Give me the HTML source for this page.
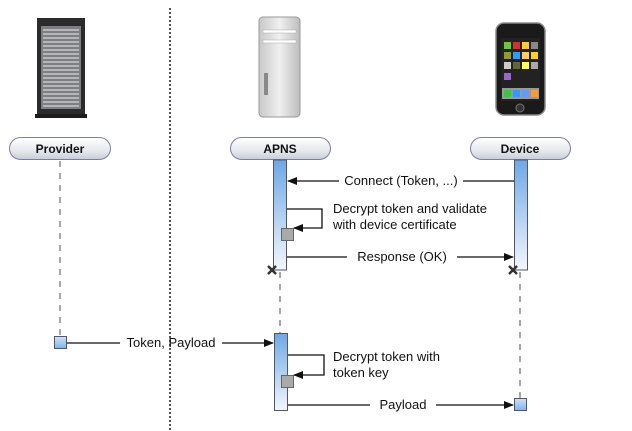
<!DOCTYPE html>
<html><head><meta charset="utf-8">
<style>
html,body{margin:0;padding:0;background:#fff;}
svg{display:block;font-family:"Liberation Sans",Arial,sans-serif;}
</style></head>
<body>
<svg width="632" height="431" viewBox="0 0 632 431" xmlns="http://www.w3.org/2000/svg">
<defs>
<linearGradient id="pill" x1="0" y1="0" x2="0" y2="1">
<stop offset="0" stop-color="#ffffff"/><stop offset="0.6" stop-color="#e6e8ec"/><stop offset="1" stop-color="#c9cdd6"/>
</linearGradient>
<linearGradient id="bar" x1="0" y1="0" x2="0" y2="1">
<stop offset="0" stop-color="#6ea8e6"/><stop offset="1" stop-color="#f2f7fd"/>
</linearGradient>
<linearGradient id="box" x1="0" y1="0" x2="0" y2="1">
<stop offset="0" stop-color="#cfe3f8"/><stop offset="1" stop-color="#7fb3e8"/>
</linearGradient>
<linearGradient id="mac" x1="0" y1="0" x2="1" y2="0">
<stop offset="0" stop-color="#c8c8c8"/><stop offset="0.5" stop-color="#f0f0f0"/><stop offset="1" stop-color="#bdbdbd"/>
</linearGradient>
<marker id="ah" markerWidth="10" markerHeight="8" refX="9" refY="4" orient="auto" markerUnits="userSpaceOnUse">
<path d="M0,0 L10,4 L0,8 Z" fill="#111"/>
</marker>
</defs>

<line x1="170" y1="8" x2="170" y2="431" stroke="#555" stroke-width="2" stroke-dasharray="2,2"/>

<rect x="37" y="18" width="48" height="98" fill="#2b2b2b"/>
<rect x="41" y="26" width="40" height="83" fill="#7d7f83"/>
<g stroke="#d5d7dc" stroke-width="1.2">
<line x1="43" y1="30" x2="79" y2="30"/><line x1="43" y1="34" x2="79" y2="34"/><line x1="43" y1="38" x2="79" y2="38"/><line x1="43" y1="42" x2="79" y2="42"/><line x1="43" y1="46" x2="79" y2="46"/><line x1="43" y1="50" x2="79" y2="50"/><line x1="43" y1="54" x2="79" y2="54"/><line x1="43" y1="58" x2="79" y2="58"/><line x1="43" y1="62" x2="79" y2="62"/><line x1="43" y1="66" x2="79" y2="66"/><line x1="43" y1="70" x2="79" y2="70"/><line x1="43" y1="74" x2="79" y2="74"/><line x1="43" y1="78" x2="79" y2="78"/><line x1="43" y1="82" x2="79" y2="82"/><line x1="43" y1="86" x2="79" y2="86"/><line x1="43" y1="90" x2="79" y2="90"/><line x1="43" y1="94" x2="79" y2="94"/><line x1="43" y1="98" x2="79" y2="98"/><line x1="43" y1="102" x2="79" y2="102"/><line x1="43" y1="106" x2="79" y2="106"/>
</g>
<rect x="35" y="114" width="52" height="4" fill="#1c1c1c"/>

<rect x="259" y="17" width="41" height="100" rx="4" fill="url(#mac)" stroke="#999"/>
<rect x="263" y="30" width="33" height="3" fill="#fff" stroke="#aaa" stroke-width="0.5"/>
<rect x="263" y="40" width="33" height="3" fill="#fff" stroke="#aaa" stroke-width="0.5"/>
<rect x="264" y="73" width="4" height="22" fill="#888"/>

<rect x="496" y="23" width="49" height="92" rx="8" fill="#1a1a1a" stroke="#888" stroke-width="1.5"/>
<rect x="501" y="38" width="39" height="63" fill="#222"/>
<g>
<rect x="504" y="42" width="7" height="7" fill="#6c3"/><rect x="513" y="42" width="7" height="7" fill="#c33"/><rect x="522" y="42" width="7" height="7" fill="#fc3"/><rect x="531" y="42" width="7" height="7" fill="#888"/>
<rect x="504" y="52" width="7" height="7" fill="#993"/><rect x="513" y="52" width="7" height="7" fill="#39f"/><rect x="522" y="52" width="7" height="7" fill="#fc6"/><rect x="531" y="52" width="7" height="7" fill="#fc3"/>
<rect x="504" y="62" width="7" height="7" fill="#ccc"/><rect x="513" y="62" width="7" height="7" fill="#663"/><rect x="522" y="62" width="7" height="7" fill="#ff6"/><rect x="531" y="62" width="7" height="7" fill="#aaa"/>
<rect x="504" y="73" width="7" height="7" fill="#96c"/>
<rect x="502" y="88" width="37" height="11" fill="#999"/>
<rect x="504" y="90" width="7" height="7" fill="#3c3"/><rect x="513" y="90" width="7" height="7" fill="#39f"/><rect x="522" y="90" width="7" height="7" fill="#69f"/><rect x="531" y="90" width="7" height="7" fill="#f93"/>
</g>
<circle cx="520" cy="108" r="4" fill="#333" stroke="#777"/>

<g font-size="12" font-weight="bold" text-anchor="middle" fill="#111">
<rect x="9.5" y="137.5" width="101" height="22" rx="11" fill="url(#pill)" stroke="#7a7fa8"/>
<text x="60" y="153">Provider</text>
<rect x="230.5" y="137.5" width="100" height="22" rx="11" fill="url(#pill)" stroke="#7a7fa8"/>
<text x="280" y="153">APNS</text>
<rect x="470.5" y="137.5" width="100" height="22" rx="11" fill="url(#pill)" stroke="#7a7fa8"/>
<text x="520" y="153">Device</text>
</g>

<g stroke="#888" stroke-width="1.5" stroke-dasharray="6,6">
<line x1="60" y1="161" x2="60" y2="336"/>
<line x1="280" y1="272" x2="280" y2="333"/>
<line x1="520" y1="272" x2="520" y2="398"/>
</g>

<rect x="273.5" y="160" width="13" height="110" fill="url(#bar)" stroke="#556"/>
<rect x="514.5" y="160" width="13" height="110" fill="url(#bar)" stroke="#556"/>
<rect x="274.5" y="333.5" width="13" height="77" fill="url(#bar)" stroke="#556"/>

<g stroke="#333" stroke-width="2.5">
<line x1="268" y1="266" x2="276" y2="274"/><line x1="276" y1="266" x2="268" y2="274"/>
<line x1="509" y1="266" x2="517" y2="274"/><line x1="517" y1="266" x2="509" y2="274"/>
</g>

<rect x="54.5" y="336.5" width="12" height="12" fill="url(#box)" stroke="#556"/>
<rect x="514.5" y="398.5" width="12" height="12" fill="url(#box)" stroke="#556"/>
<rect x="281.5" y="228.5" width="12" height="12" fill="#aaa" stroke="#666"/>
<rect x="281.5" y="375.5" width="12" height="12" fill="#aaa" stroke="#666"/>

<g stroke="#111" stroke-width="1.3" fill="none">
<line x1="514" y1="181" x2="463" y2="181"/>
<line x1="339" y1="181" x2="288" y2="181" marker-end="url(#ah)"/>
<path d="M287,209 H322 V228 H294" marker-end="url(#ah)"/>
<line x1="287" y1="257" x2="347" y2="257"/>
<line x1="457" y1="257" x2="513" y2="257" marker-end="url(#ah)"/>
<line x1="67" y1="343" x2="120" y2="343"/>
<line x1="222" y1="343" x2="273" y2="343" marker-end="url(#ah)"/>
<path d="M288,355 H324 V375 H294" marker-end="url(#ah)"/>
<line x1="288" y1="405" x2="370" y2="405"/>
<line x1="436" y1="405" x2="513" y2="405" marker-end="url(#ah)"/>
</g>

<g font-size="13" fill="#111">
<text x="401" y="185" text-anchor="middle">Connect (Token, ...)</text>
<text x="333" y="213">Decrypt token and validate</text>
<text x="333" y="229">with device certificate</text>
<text x="402" y="261" text-anchor="middle">Response (OK)</text>
<text x="171" y="347" text-anchor="middle">Token, Payload</text>
<text x="333" y="361">Decrypt token with</text>
<text x="333" y="377">token key</text>
<text x="403" y="409" text-anchor="middle">Payload</text>
</g>
</svg>
</body></html>
